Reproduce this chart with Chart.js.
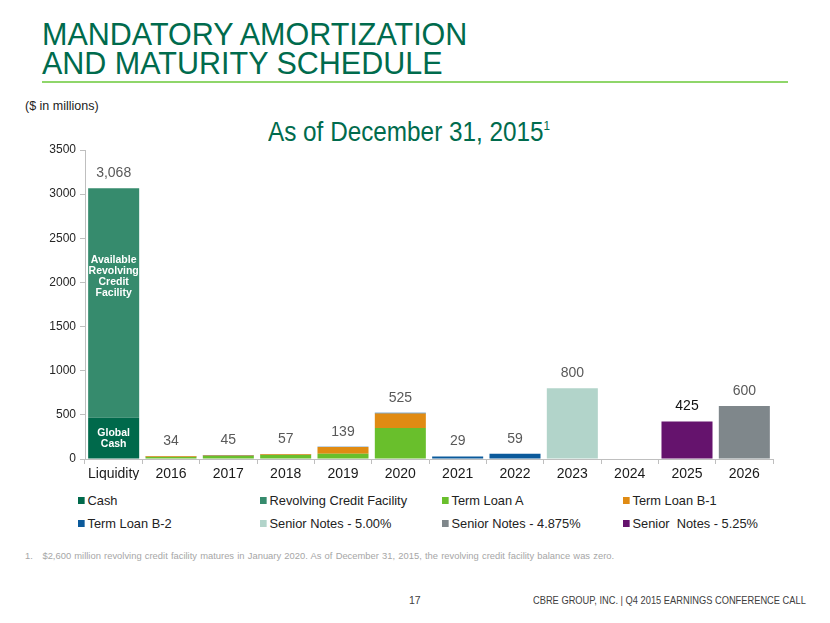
<!DOCTYPE html>
<html>
<head>
<meta charset="utf-8">
<script src="https://cdn.jsdelivr.net/npm/chart.js@4.4.1/dist/chart.umd.min.js"></script>
<style>
  html, body { margin: 0; padding: 0; background: #fff; }
  body { width: 830px; height: 623px; position: relative; overflow: hidden; font-family: "Liberation Sans", Arial, sans-serif; }
  .abs { position: absolute; white-space: nowrap; }
  #title { left: 42px; top: 20px; color: #006b4d; font-size: 30.5px; line-height: 28.5px; }
  #rule { left: 42px; top: 81px; width: 746px; height: 2px; background: #8fd66a; }
  #units { left: 25px; top: 99px; font-size: 12.5px; color: #222; }
  #sub { left: 268px; top: 117px; color: #006b4d; font-size: 27px; transform: scaleX(0.9); transform-origin: left top; }
  #sub sup { font-size: 13px; vertical-align: 11px; }
  #chartWrap { left: 0; top: 130px; width: 800px; height: 350px; }
  #legend { left: 0; top: 0; }
  .lg { position: absolute; font-size: 13.5px; color: #222; display: flex; align-items: center; transform: scaleX(0.95); transform-origin: left center; }
  .lg i { display: inline-block; width: 7px; height: 7px; margin-right: 3px; }
  #foot { left: 25px; top: 550px; font-size: 9.4px; color: #a6a6a6; word-spacing: 0.6px; }
  #pg { left: 409px; top: 594px; font-size: 10.5px; color: #404040; }
  #co { left: 533px; top: 594px; font-size: 10.5px; color: #404040; transform: scaleX(0.885); transform-origin: left top; }
</style>
</head>
<body>
<div id="title" class="abs">MANDATORY AMORTIZATION<br>AND MATURITY SCHEDULE</div>
<div id="rule" class="abs"></div>
<div id="units" class="abs">($ in millions)</div>
<div id="sub" class="abs">As of December 31, 2015<sup>1</sup></div>
<div id="chartWrap" class="abs"><canvas id="c" width="800" height="350"></canvas></div>
<div id="legend" class="abs"></div>
<div id="foot" class="abs">1.&nbsp;&nbsp;&nbsp;$2,600 million revolving credit facility matures in January 2020. As of December 31, 2015, the revolving credit facility balance was zero.</div>
<div id="pg" class="abs">17</div>
<div id="co" class="abs">CBRE GROUP, INC. | Q4 2015 EARNINGS CONFERENCE CALL</div>
<script>
// ---- data ----
const categories = ["Liquidity", "2016", "2017", "2018", "2019", "2020", "2021", "2022", "2023", "2024", "2025", "2026"];
const cash        = [468, 0, 0, 0, 0, 0, 0, 0, 0, 0, 0, 0];
const revolver    = [2600, 0, 0, 0, 0, 0, 0, 0, 0, 0, 0, 0];
const termLoanA   = [0, 23, 34, 46, 60, 351, 0, 0, 0, 0, 0, 0];
const termLoanB1  = [0, 7, 7, 7, 75, 163, 0, 0, 0, 0, 0, 0];
const termLoanB2  = [0, 4, 4, 4, 4, 11, 29, 59, 0, 0, 0, 0];
const senior500   = [0, 0, 0, 0, 0, 0, 0, 0, 800, 0, 0, 0];
const senior4875  = [0, 0, 0, 0, 0, 0, 0, 0, 0, 0, 0, 600];
const senior525   = [0, 0, 0, 0, 0, 0, 0, 0, 0, 0, 425, 0];
const yTicks      = [0, 500, 1000, 1500, 2000, 2500, 3000, 3500];

const series = [
  { label: "Cash", data: cash, color: "#00694b" },
  { label: "Revolving Credit Facility", data: revolver, color: "#368b6d" },
  { label: "Term Loan A", data: termLoanA, color: "#69bf2c" },
  { label: "Term Loan B-1", data: termLoanB1, color: "#e08b13" },
  { label: "Term Loan B-2", data: termLoanB2, color: "#0b5a9b" },
  { label: "Senior Notes - 5.00%", data: senior500, color: "#b2d4ca" },
  { label: "Senior Notes - 4.875%", data: senior4875, color: "#7f878b" },
  { label: "Senior  Notes - 5.25%", data: senior525, color: "#65136d" }
];

// ---- legend (HTML) ----
const legendEl = document.getElementById('legend');
const colX = [78, 260, 442, 623];
const rowY = [500, 523];
series.forEach((s, k) => {
  const d = document.createElement('div');
  d.className = 'lg';
  d.style.left = colX[k % 4] + 'px';
  d.style.top = (rowY[Math.floor(k / 4)] - 9) + 'px';
  d.style.height = '18px';
  d.innerHTML = '<i style="background:' + s.color + '"></i>' + s.label.replace(/  /g, ' &nbsp;');
  legendEl.appendChild(d);
});

// ---- plugins ----
const totalsPlugin = {
  id: 'totals',
  afterDatasetsDraw(chart) {
    const ctx = chart.ctx;
    const y = chart.scales.y, x = chart.scales.x;
    ctx.save();
    ctx.font = '14px "Liberation Sans", Arial, sans-serif';
    ctx.textAlign = 'center';
    ctx.textBaseline = 'middle';
    categories.forEach((cat, i) => {
      let total = 0;
      chart.data.datasets.forEach(ds => total += ds.data[i]);
      if (!total) return;
      ctx.fillStyle = cat === '2025' ? '#111' : '#595959';
      const px = x.getPixelForValue(i);
      const py = y.getPixelForValue(total) - 15;
      ctx.fillText(total.toLocaleString('en-US'), px, py);
    });
    // inner annotations on Liquidity bar
    const px = x.getPixelForValue(0);
    ctx.fillStyle = '#fff';
    ctx.font = 'bold 10.5px "Liberation Sans", Arial, sans-serif';
    const revTop = cash[0] + revolver[0];
    const revLines = ['Available', 'Revolving', 'Credit', 'Facility'];
    const revY = y.getPixelForValue(revTop) + 72;
    revLines.forEach((t, k) => ctx.fillText(t, px, revY + k * 11));
    const cashLines = ['Global', 'Cash'];
    const cashY = y.getPixelForValue(cash[0] / 2) - 5.5;
    cashLines.forEach((t, k) => ctx.fillText(t, px, cashY + k * 11));
    ctx.restore();
  }
};

new Chart(document.getElementById('c'), {
  type: 'bar',
  data: {
    labels: categories,
    datasets: series.map(s => ({
      label: s.label,
      data: s.data,
      backgroundColor: s.color,
      borderWidth: 0,
      categoryPercentage: 1.0,
      barPercentage: 0.89
    }))
  },
  options: {
    responsive: false,
    animation: false,
    layout: { padding: { top: 20, right: 27, left: 0, bottom: 0 } },
    plugins: { legend: { display: false }, tooltip: { enabled: false } },
    scales: {
      x: {
        stacked: true,
        grid: { display: true, drawOnChartArea: false, offset: true, tickLength: 5, color: '#bfbfbf' },
        border: { color: '#bfbfbf', width: 1 },
        ticks: { color: '#1a1a1a', font: { size: 14, family: '"Liberation Sans", Arial, sans-serif' }, padding: 2, maxRotation: 0 },
        afterFit(scale) { scale.height = 21; }
      },
      y: {
        stacked: true,
        min: 0, max: 3500,
        afterBuildTicks(scale) { scale.ticks = yTicks.map(v => ({ value: v })); },
        grid: { display: true, drawOnChartArea: false, tickLength: 5, color: '#bfbfbf' },
        border: { color: '#bfbfbf', width: 1 },
        ticks: { color: '#262626', font: { size: 12, family: '"Liberation Sans", Arial, sans-serif' }, padding: 4, callback: v => String(v) },
        afterFit(scale) { scale.width = 85; }
      }
    }
  },
  plugins: [totalsPlugin]
});
</script>
</body>
</html>
